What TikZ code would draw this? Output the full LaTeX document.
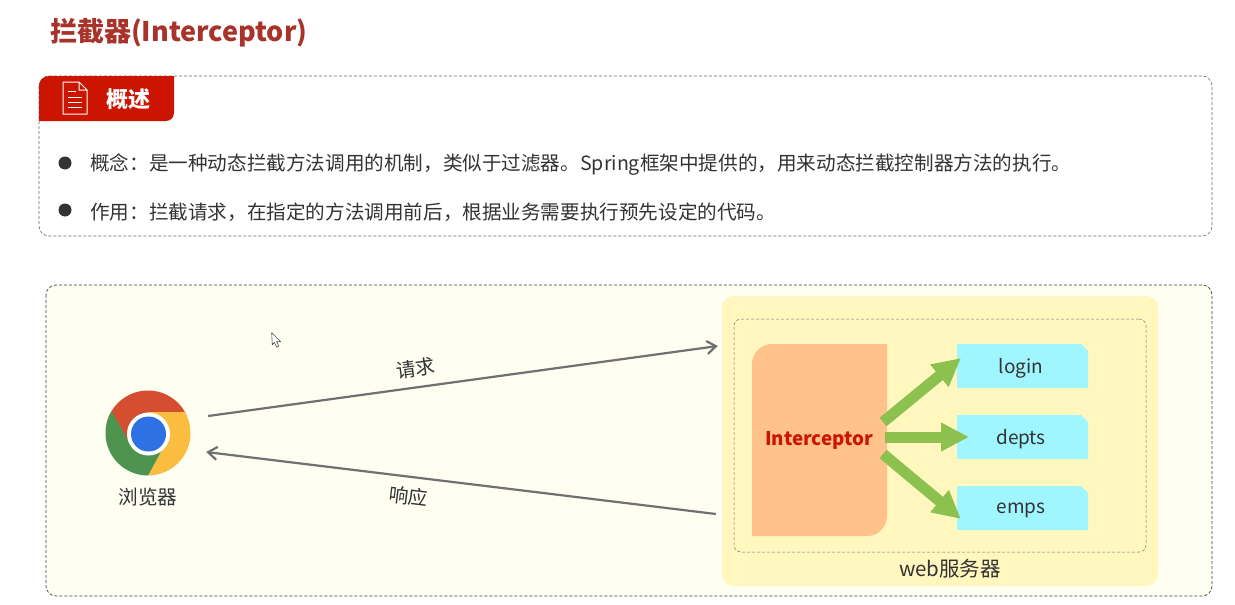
\documentclass[tikz,border=0pt]{standalone}
\usepackage{fontspec}
\setmainfont{Noto Sans CJK SC}
\usetikzlibrary{arrows.meta}
\definecolor{titlered}{HTML}{A8332A}
\definecolor{tabred}{HTML}{CC1500}
\definecolor{panel}{HTML}{FEFEF1}
\definecolor{serverbg}{HTML}{FFF7BE}
\definecolor{interbg}{HTML}{FFC28B}
\definecolor{apibg}{HTML}{A0F6FF}
\definecolor{arrowgreen}{HTML}{8CC04F}
\definecolor{linegray}{HTML}{707070}
\definecolor{txt}{HTML}{333333}
\tikzset{
  lab/.style={inner sep=0pt,text=txt,font=\fontsize{19.6pt}{24pt}\selectfont},
  small/.style={inner sep=0pt,text=txt,font=\fontsize{19pt}{22pt}\selectfont},
  dot/.style={circle,fill=txt,minimum size=13pt,inner sep=0pt},
  msg/.style={linegray,line width=2.2pt,-{Straight Barb[length=9pt,width=13pt]}},
  fat/.style={arrowgreen,line width=11pt,-{Triangle[length=28pt,width=27pt]}}
}
\begin{document}
\begin{tikzpicture}[x=1pt,y=-1pt]
  \useasboundingbox (0,0) rectangle (1235,605);
  \fill[white] (0,0) rectangle (1235,605);
  \node[anchor=west,inner sep=0pt,text=titlered,font=\fontsize{27pt}{32pt}\selectfont\bfseries] (title) at (50,32.5) {拦截器(Interceptor)};

  \draw[densely dashed,black!60,line width=.6pt,rounded corners=10pt] (39,76) rectangle (1212,236);
  \fill[tabred] (39,121) -- (39,86) arc[start angle=180,end angle=90,radius=10pt] -- (174,76)
    -- (174,113) arc[start angle=0,end angle=-90,radius=8pt] -- cycle;
  \draw[white,line width=1pt,line join=round] (63,82) -- (79,82) -- (87,90) -- (87,114) -- (63,114) -- cycle
    (79,82) -- (79,90) -- (87,90);
  \draw[white,line width=1pt] (68,91) -- (76,91) (68,97) -- (82,97) (68,102) -- (82,102) (68,107) -- (82,107);
  \node[inner sep=0pt,text=white,font=\fontsize{22pt}{26pt}\selectfont\bfseries] (head) at (128,99) {概述};

  \node[dot] (d1) at (65,163) {};
  \node[dot] (d2) at (65,210) {};
  \node[lab,anchor=west] (t1) at (90,165) {概念：是一种动态拦截方法调用的机制，类似于过滤器。Spring框架中提供的，用来动态拦截控制器方法的执行。};
  \node[lab,anchor=west] (t2) at (90,212) {作用：拦截请求，在指定的方法调用前后，根据业务需要执行预先设定的代码。};

  \draw[densely dashed,black!75,line width=.7pt,fill=panel,rounded corners=10pt] (46,285) rectangle (1212,596);

  \draw[black!70,line width=.6pt,fill=white,line join=round] (271.7,332.7) -- (272.3,345) -- (274.3,342.3) -- (276.7,347.3)
    -- (278.7,346) -- (276.7,341.7) -- (280.7,341.7) -- cycle;

  % browser
  \node[circle,minimum size=85pt,inner sep=0pt] (browser) at (148,433) {};
  \begin{scope}
    \clip (148,433) circle (42.5pt);
    \fill[color={rgb,255:red,213;green,78;blue,48}] (100,385) rectangle (195,412) (100,412) -- (130,452) -- (148,433) -- (195,412) -- cycle;
    \fill[color={rgb,255:red,78;green,147;blue,80}] (112,412) -- (129,442) -- (148,433) -- (166,443) -- (148,476) -- (148,480) -- (100,480) -- (100,412) -- cycle;
    \fill[color={rgb,255:red,251;green,189;blue,64}] (148,412) -- (195,412) -- (195,480) -- (148,480) -- (148,476) -- (166,443) -- cycle;
  \end{scope}
  \fill[white] (148.5,434) circle (21.5pt);
  \fill[color={rgb,255:red,46;green,113;blue,228}] (148.5,434) circle (17.5pt);
  \node[lab] (blabel) at (148,497) {浏览器};

  % server
  \node[minimum width=436pt,minimum height=290pt,inner sep=0pt,fill=serverbg,rounded corners=12pt] (server) at (940,441) {};
  \node[minimum width=412pt,minimum height=233pt,inner sep=0pt,draw=black!55,densely dashed,line width=.5pt,rounded corners=7pt] (inner) at (940,435.5) {};
  \node[inner sep=0pt,text=txt,font=\fontsize{20.5pt}{24pt}\selectfont] (slabel) at (950,569) {web服务器};

  \fill[interbg] (887,344) -- (887,516) arc[start angle=0,end angle=-90,radius=20pt] -- (752,536)
    -- (752,364) arc[start angle=180,end angle=90,radius=20pt] -- cycle;
  \node[inner sep=0pt,text=tabred,font=\fontsize{18.8pt}{24pt}\selectfont\bfseries] (inter) at (819,440) {Interceptor};

  \foreach \name/\y in {login/366,depts/437,emps/508}{
    \fill[apibg] (957,\y-22) -- (1081,\y-22) -- (1088,\y-15) -- (1088,\y+22) -- (957,\y+22) -- cycle;
    \node[small] (\name) at (1021,\y+2) {\name};
  }

  \draw[fat] ([shift={(10,-18)}]inter.east) -- (961,358);
  \draw[fat] ([shift={(12,-3)}]inter.east) -- (969,437);
  \draw[fat] ([shift={(10,14)}]inter.east) -- (961,519);

  \draw[msg] ([shift={(17.5,-17)}]browser.east) -- node[lab,pos=.41,above=9pt,rotate=8] (req) {请求} ([shift={(-4,-95)}]server.west);
  \draw[msg] ([shift={(-6,73)}]server.west) -- node[lab,pos=.6,below=9pt,rotate=-7] (resp) {响应} ([shift={(15.5,19)}]browser.east);
\end{tikzpicture}
\end{document}
